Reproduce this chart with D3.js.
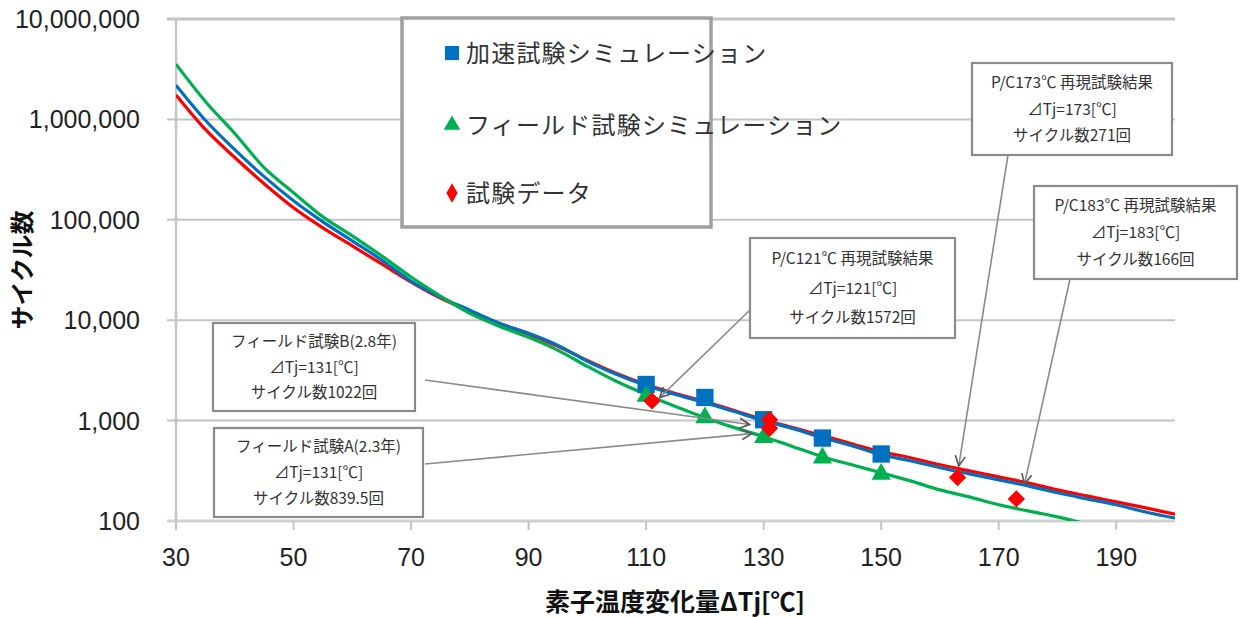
<!DOCTYPE html>
<html><head><meta charset="utf-8">
<script src="https://cdn.jsdelivr.net/npm/d3@7/dist/d3.min.js"></script>
<style>
html,body{margin:0;padding:0;background:#fff;}
svg{display:block;}
</style></head>
<body>
<svg id="chart" width="1245" height="617"></svg>
<script>
// ---------- data ----------
const curveX = [30,35,40,45,50,55,60,65,70,75,80,85,90,95,100,105,110,115,120,125,130,135,140,145,150,155,160,165,170,175,180,185,190,195,200];
const accelSim = [2190000,980000,500000,269000,155000,95500,61700,39800,24500,17000,12600,9330,7410,5620,3890,2880,2240,1820,1510,1230,1000,832,676,562,457,398,339,295,257,224,191,166,145,123,107];
const testCurve = [1750000,794000,417000,229000,132000,83200,55000,36300,24000,16600,12300,9330,7240,5500,3980,2950,2290,1860,1550,1260,1020,851,708,589,490,427,363,316,275,240,204,178,155,135,117];
const fieldSim = [3550000,1510000,724000,331000,186000,107000,69200,43700,26900,17400,11700,8710,6760,5010,3470,2450,1820,1380,1070,851,692,550,437,363,302,251,204,174,145,126,110,93,79,67,57];

const markerX = [110,120,130,140,150];
const accelMarkers = [2290,1700,1020,670,465];
const fieldMarkers = [1745,1070,680,425,293];
const testX = [111,131,131,163,173];
const testY = [1572,1022,839.5,271,166];

const xTicks = [30,50,70,90,110,130,150,170,190];
const yTicks = [100,1000,10000,100000,1000000,10000000];

const legendLabels = ["加速試験シミュレーション","フィールド試験シミュレーション","試験データ"];
const xTitle = "素子温度変化量ΔTj[℃]";
const yTitle = "サイクル数";

const noteTexts = [
  ["P/C121℃ 再現試験結果","⊿Tj=121[℃]","サイクル数1572回"],
  ["P/C173℃ 再現試験結果","⊿Tj=173[℃]","サイクル数271回"],
  ["P/C183℃ 再現試験結果","⊿Tj=183[℃]","サイクル数166回"],
  ["フィールド試験B(2.8年)","⊿Tj=131[℃]","サイクル数1022回"],
  ["フィールド試験A(2.3年)","⊿Tj=131[℃]","サイクル数839.5回"]
];
// arrow targets in data units [ΔTj, cycles]
const noteTargets = [[112.3,1695],[163.2,353],[174.4,234],[127.6,913],[128,742]];

// ---------- layout ----------
const L = {left:176, right:1175, top:19, bottom:521};
const noteBoxes = [
  {x:750,y:238,w:205,h:100, ax:750, ay:310},
  {x:972,y:63,w:200,h:92, ax:1008, ay:155},
  {x:1034,y:186,w:203,h:93, ax:1070, ay:279},
  {x:213,y:323,w:202,h:88, ax:425, ay:380},
  {x:214,y:428,w:209,h:89, ax:425, ay:464}
];
const colors = {accel:"#0070C0", field:"#00B050", test:"#FF0000"};
const CJK = "'Noto Sans CJK JP','Noto Sans',sans-serif";
const NUM = "'Liberation Sans Narrow','Liberation Sans',Arial,sans-serif";

const svg = d3.select("#chart");
const x = d3.scaleLinear().domain([30,200]).range([L.left,L.right]);
const y = d3.scaleLog().domain([100,10000000]).range([L.bottom,L.top]);

// defs
const defs = svg.append("defs");
defs.append("clipPath").attr("id","plotclip").append("rect")
  .attr("x",L.left).attr("y",L.top).attr("width",L.right-L.left).attr("height",L.bottom-L.top);
defs.append("marker").attr("id","arrow").attr("viewBox","0 0 12 12")
  .attr("refX",11).attr("refY",6).attr("markerWidth",12).attr("markerHeight",12)
  .attr("markerUnits","userSpaceOnUse").attr("orient","auto")
  .append("path").attr("d","M1,1 L11,6 L1,11").attr("fill","none").attr("stroke","#555").attr("stroke-width",1.6);

// gridlines
svg.append("g").selectAll("line").data(yTicks).join("line")
  .attr("x1",L.left-9).attr("x2",L.right).attr("y1",d=>y(d)).attr("y2",d=>y(d))
  .attr("stroke","#c4c4c4").attr("stroke-width",d=>d===10000000?3:2);
// left axis line
svg.append("line").attr("x1",L.left).attr("x2",L.left).attr("y1",L.top).attr("y2",L.bottom)
  .attr("stroke","#c4c4c4").attr("stroke-width",2.5);
// bottom axis line + ticks
svg.append("line").attr("x1",L.left-9).attr("x2",L.right).attr("y1",L.bottom).attr("y2",L.bottom)
  .attr("stroke","#d0d0d0").attr("stroke-width",3);
svg.append("g").selectAll("line").data(xTicks).join("line")
  .attr("x1",d=>x(d)).attr("x2",d=>x(d)).attr("y1",L.bottom).attr("y2",L.bottom+9)
  .attr("stroke","#c4c4c4").attr("stroke-width",2);

// tick labels
svg.append("g").selectAll("text").data(yTicks).join("text")
  .attr("x",140).attr("y",d=>y(d)).attr("dy","0.36em").attr("text-anchor","end")
  .attr("font-family",NUM).attr("font-size",25).attr("fill","#222")
  .text(d=>d3.format(",")(d));
svg.append("g").selectAll("text").data(xTicks).join("text")
  .attr("x",d=>x(d)).attr("y",557).attr("dy","0.36em").attr("text-anchor","middle")
  .attr("font-family",NUM).attr("font-size",25).attr("fill","#222")
  .text(d=>d);

// axis titles
svg.append("text").attr("x",675).attr("y",602).attr("dy","0.36em").attr("text-anchor","middle")
  .attr("font-family",CJK).attr("font-weight","bold").attr("font-size",25).attr("fill","#111")
  .text(xTitle);
svg.append("text").attr("transform","translate(22,270) rotate(-90)").attr("dy","0.36em")
  .attr("text-anchor","middle").attr("font-family",CJK).attr("font-weight","bold")
  .attr("font-size",24).attr("fill","#111").text(yTitle);

// curves
const line = d3.line().x(d=>x(d[0])).y(d=>y(d[1])).curve(d3.curveMonotoneX);
const plot = svg.append("g").attr("clip-path","url(#plotclip)");
[[testCurve,colors.test],[accelSim,colors.accel],[fieldSim,colors.field]].forEach(([vals,c])=>{
  plot.append("path").datum(curveX.map((t,i)=>[t,vals[i]]))
    .attr("d",line).attr("fill","none").attr("stroke",c).attr("stroke-width",3.2);
});

// markers
const sym = (type,size)=>d3.symbol().type(type).size(size)();
svg.append("g").selectAll("path").data(markerX.map((t,i)=>[t,accelMarkers[i]])).join("path")
  .attr("transform",d=>`translate(${x(d[0])},${y(d[1])})`).attr("d",sym(d3.symbolSquare,300))
  .attr("fill",colors.accel);
svg.append("g").selectAll("path").data(markerX.map((t,i)=>[t,fieldMarkers[i]])).join("path")
  .attr("transform",d=>`translate(${x(d[0])},${y(d[1])})`).attr("d",sym(d3.symbolTriangle,160))
  .attr("fill",colors.field);
svg.append("g").selectAll("path").data(testX.map((t,i)=>[t,testY[i]])).join("path")
  .attr("transform",d=>`translate(${x(d[0])},${y(d[1])}) rotate(45)`).attr("d",sym(d3.symbolSquare,150))
  .attr("fill",colors.test);

// annotation boxes and arrows
noteTexts.forEach((lines,i)=>{
  const b = noteBoxes[i], t = noteTargets[i];
  svg.append("line").attr("x1",b.ax).attr("y1",b.ay).attr("x2",x(t[0])).attr("y2",y(t[1]))
    .attr("stroke","#8a8a8a").attr("stroke-width",1.6).attr("marker-end","url(#arrow)");
  const g = svg.append("g");
  g.append("rect").attr("x",b.x).attr("y",b.y).attr("width",b.w).attr("height",b.h)
    .attr("fill","#fff").attr("stroke","#8a8a8a").attr("stroke-width",2.2);
  const gap = b.h/3.6;
  g.selectAll("text").data(lines).join("text")
    .attr("x",b.x+b.w/2).attr("y",(d,j)=>b.y+b.h/2+(j-1)*gap*1.05).attr("dy","0.36em")
    .attr("text-anchor","middle").attr("font-family",CJK).attr("font-size",15.5).attr("fill","#333")
    .text(d=>d);
});

// legend
const lg = svg.append("g");
lg.append("rect").attr("x",402).attr("y",18).attr("width",309).attr("height",209)
  .attr("fill","#fff").attr("stroke","#a0a0a0").attr("stroke-width",3.5);
const legY = [53,125,193];
const legSym = [
  sym(d3.symbolSquare,200), sym(d3.symbolTriangle,120), sym(d3.symbolDiamond,110)
];
const legCol = [colors.accel, colors.field, colors.test];
legendLabels.forEach((lab,i)=>{
  lg.append("path").attr("transform",`translate(452,${legY[i]})`).attr("d",legSym[i]).attr("fill",legCol[i]);
  lg.append("text").attr("x",466).attr("y",legY[i]).attr("dy","0.36em")
    .attr("font-family",CJK).attr("font-size",24).attr("letter-spacing",1.2).attr("fill","#333").text(lab);
});
</script>
</body></html>
